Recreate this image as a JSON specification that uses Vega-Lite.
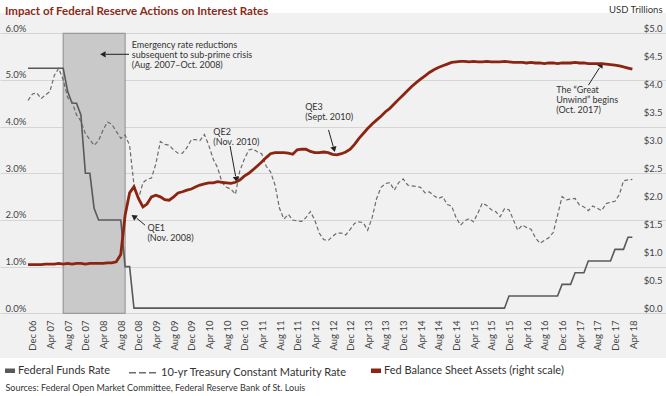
{
  "$schema": "https://vega.github.io/schema/vega-lite/v6.json",
  "width": 666,
  "height": 345,
  "autosize": {"type": "none"},
  "padding": {"left": 0, "top": 13, "right": 0, "bottom": 38},
  "background": "white",
  "config": {
    "font": "Lato",
    "view": {"fill": "#f1f1f1", "stroke": null}
  },
  "title": {
    "text": "Impact of Federal Reserve Actions on Interest Rates",
    "anchor": "start",
    "frame": "group",
    "orient": "top",
    "baseline": "alphabetic",
    "offset": -22,
    "dx": 5,
    "color": "#8b2a18",
    "fontSize": 11.5,
    "fontWeight": "bold",
    "font": "Lato"
  },
  "datasets": {
    "series": [
      {"date": "2006-12-01", "fed_funds": 5.25, "treasury_10y": 4.56, "balance_sheet": 0.87},
      {"date": "2007-01-01", "fed_funds": 5.25, "treasury_10y": 4.70, "balance_sheet": 0.87},
      {"date": "2007-02-01", "fed_funds": 5.25, "treasury_10y": 4.72, "balance_sheet": 0.87},
      {"date": "2007-03-01", "fed_funds": 5.25, "treasury_10y": 4.60, "balance_sheet": 0.87},
      {"date": "2007-04-01", "fed_funds": 5.25, "treasury_10y": 4.68, "balance_sheet": 0.88},
      {"date": "2007-05-01", "fed_funds": 5.25, "treasury_10y": 4.75, "balance_sheet": 0.88},
      {"date": "2007-06-01", "fed_funds": 5.25, "treasury_10y": 5.10, "balance_sheet": 0.88},
      {"date": "2007-07-01", "fed_funds": 5.25, "treasury_10y": 5.25, "balance_sheet": 0.89},
      {"date": "2007-08-01", "fed_funds": 5.25, "treasury_10y": 5.00, "balance_sheet": 0.88},
      {"date": "2007-09-01", "fed_funds": 4.75, "treasury_10y": 4.62, "balance_sheet": 0.89},
      {"date": "2007-10-01", "fed_funds": 4.50, "treasury_10y": 4.53, "balance_sheet": 0.88},
      {"date": "2007-11-01", "fed_funds": 4.50, "treasury_10y": 4.25, "balance_sheet": 0.89},
      {"date": "2007-12-01", "fed_funds": 4.25, "treasury_10y": 4.12, "balance_sheet": 0.89},
      {"date": "2008-01-01", "fed_funds": 3.00, "treasury_10y": 3.85, "balance_sheet": 0.88},
      {"date": "2008-02-01", "fed_funds": 3.00, "treasury_10y": 3.72, "balance_sheet": 0.89},
      {"date": "2008-03-01", "fed_funds": 2.25, "treasury_10y": 3.60, "balance_sheet": 0.89},
      {"date": "2008-04-01", "fed_funds": 2.00, "treasury_10y": 3.70, "balance_sheet": 0.89},
      {"date": "2008-05-01", "fed_funds": 2.00, "treasury_10y": 3.92, "balance_sheet": 0.89},
      {"date": "2008-06-01", "fed_funds": 2.00, "treasury_10y": 4.10, "balance_sheet": 0.90},
      {"date": "2008-07-01", "fed_funds": 2.00, "treasury_10y": 4.05, "balance_sheet": 0.90},
      {"date": "2008-08-01", "fed_funds": 2.00, "treasury_10y": 3.90, "balance_sheet": 0.92},
      {"date": "2008-09-01", "fed_funds": 2.00, "treasury_10y": 3.75, "balance_sheet": 1.05},
      {"date": "2008-10-01", "fed_funds": 1.00, "treasury_10y": 3.82, "balance_sheet": 1.75},
      {"date": "2008-11-01", "fed_funds": 1.00, "treasury_10y": 3.60, "balance_sheet": 2.15},
      {"date": "2008-12-01", "fed_funds": 0.11, "treasury_10y": 2.75, "balance_sheet": 2.26},
      {"date": "2009-01-01", "fed_funds": 0.11, "treasury_10y": 2.45, "balance_sheet": 2.05},
      {"date": "2009-02-01", "fed_funds": 0.11, "treasury_10y": 2.80, "balance_sheet": 1.90},
      {"date": "2009-03-01", "fed_funds": 0.11, "treasury_10y": 2.87, "balance_sheet": 1.95},
      {"date": "2009-04-01", "fed_funds": 0.11, "treasury_10y": 2.90, "balance_sheet": 2.08},
      {"date": "2009-05-01", "fed_funds": 0.11, "treasury_10y": 3.20, "balance_sheet": 2.11},
      {"date": "2009-06-01", "fed_funds": 0.11, "treasury_10y": 3.68, "balance_sheet": 2.08},
      {"date": "2009-07-01", "fed_funds": 0.11, "treasury_10y": 3.62, "balance_sheet": 2.03},
      {"date": "2009-08-01", "fed_funds": 0.11, "treasury_10y": 3.60, "balance_sheet": 2.02},
      {"date": "2009-09-01", "fed_funds": 0.11, "treasury_10y": 3.50, "balance_sheet": 2.08},
      {"date": "2009-10-01", "fed_funds": 0.11, "treasury_10y": 3.43, "balance_sheet": 2.15},
      {"date": "2009-11-01", "fed_funds": 0.11, "treasury_10y": 3.43, "balance_sheet": 2.17},
      {"date": "2009-12-01", "fed_funds": 0.11, "treasury_10y": 3.55, "balance_sheet": 2.20},
      {"date": "2010-01-01", "fed_funds": 0.11, "treasury_10y": 3.72, "balance_sheet": 2.22},
      {"date": "2010-02-01", "fed_funds": 0.11, "treasury_10y": 3.72, "balance_sheet": 2.26},
      {"date": "2010-03-01", "fed_funds": 0.11, "treasury_10y": 3.70, "balance_sheet": 2.29},
      {"date": "2010-04-01", "fed_funds": 0.11, "treasury_10y": 3.83, "balance_sheet": 2.31},
      {"date": "2010-05-01", "fed_funds": 0.11, "treasury_10y": 3.60, "balance_sheet": 2.33},
      {"date": "2010-06-01", "fed_funds": 0.11, "treasury_10y": 3.30, "balance_sheet": 2.33},
      {"date": "2010-07-01", "fed_funds": 0.11, "treasury_10y": 3.12, "balance_sheet": 2.35},
      {"date": "2010-08-01", "fed_funds": 0.11, "treasury_10y": 2.80, "balance_sheet": 2.34},
      {"date": "2010-09-01", "fed_funds": 0.11, "treasury_10y": 2.70, "balance_sheet": 2.33},
      {"date": "2010-10-01", "fed_funds": 0.11, "treasury_10y": 2.66, "balance_sheet": 2.32},
      {"date": "2010-11-01", "fed_funds": 0.11, "treasury_10y": 2.55, "balance_sheet": 2.34},
      {"date": "2010-12-01", "fed_funds": 0.11, "treasury_10y": 3.05, "balance_sheet": 2.38},
      {"date": "2011-01-01", "fed_funds": 0.11, "treasury_10y": 3.30, "balance_sheet": 2.45},
      {"date": "2011-02-01", "fed_funds": 0.11, "treasury_10y": 3.50, "balance_sheet": 2.50},
      {"date": "2011-03-01", "fed_funds": 0.11, "treasury_10y": 3.52, "balance_sheet": 2.56},
      {"date": "2011-04-01", "fed_funds": 0.11, "treasury_10y": 3.46, "balance_sheet": 2.63},
      {"date": "2011-05-01", "fed_funds": 0.11, "treasury_10y": 3.42, "balance_sheet": 2.70},
      {"date": "2011-06-01", "fed_funds": 0.11, "treasury_10y": 3.15, "balance_sheet": 2.78},
      {"date": "2011-07-01", "fed_funds": 0.11, "treasury_10y": 3.03, "balance_sheet": 2.85},
      {"date": "2011-08-01", "fed_funds": 0.11, "treasury_10y": 2.75, "balance_sheet": 2.87},
      {"date": "2011-09-01", "fed_funds": 0.11, "treasury_10y": 2.25, "balance_sheet": 2.87},
      {"date": "2011-10-01", "fed_funds": 0.11, "treasury_10y": 2.02, "balance_sheet": 2.87},
      {"date": "2011-11-01", "fed_funds": 0.11, "treasury_10y": 2.12, "balance_sheet": 2.86},
      {"date": "2011-12-01", "fed_funds": 0.11, "treasury_10y": 2.00, "balance_sheet": 2.84},
      {"date": "2012-01-01", "fed_funds": 0.11, "treasury_10y": 1.98, "balance_sheet": 2.92},
      {"date": "2012-02-01", "fed_funds": 0.11, "treasury_10y": 1.97, "balance_sheet": 2.93},
      {"date": "2012-03-01", "fed_funds": 0.11, "treasury_10y": 2.05, "balance_sheet": 2.93},
      {"date": "2012-04-01", "fed_funds": 0.11, "treasury_10y": 2.18, "balance_sheet": 2.89},
      {"date": "2012-05-01", "fed_funds": 0.11, "treasury_10y": 2.00, "balance_sheet": 2.87},
      {"date": "2012-06-01", "fed_funds": 0.11, "treasury_10y": 1.72, "balance_sheet": 2.87},
      {"date": "2012-07-01", "fed_funds": 0.11, "treasury_10y": 1.58, "balance_sheet": 2.88},
      {"date": "2012-08-01", "fed_funds": 0.11, "treasury_10y": 1.56, "balance_sheet": 2.87},
      {"date": "2012-09-01", "fed_funds": 0.11, "treasury_10y": 1.65, "balance_sheet": 2.84},
      {"date": "2012-10-01", "fed_funds": 0.11, "treasury_10y": 1.72, "balance_sheet": 2.83},
      {"date": "2012-11-01", "fed_funds": 0.11, "treasury_10y": 1.72, "balance_sheet": 2.85},
      {"date": "2012-12-01", "fed_funds": 0.11, "treasury_10y": 1.68, "balance_sheet": 2.88},
      {"date": "2013-01-01", "fed_funds": 0.11, "treasury_10y": 1.80, "balance_sheet": 2.93},
      {"date": "2013-02-01", "fed_funds": 0.11, "treasury_10y": 1.93, "balance_sheet": 3.02},
      {"date": "2013-03-01", "fed_funds": 0.11, "treasury_10y": 1.96, "balance_sheet": 3.12},
      {"date": "2013-04-01", "fed_funds": 0.11, "treasury_10y": 1.94, "balance_sheet": 3.21},
      {"date": "2013-05-01", "fed_funds": 0.11, "treasury_10y": 1.78, "balance_sheet": 3.30},
      {"date": "2013-06-01", "fed_funds": 0.11, "treasury_10y": 2.05, "balance_sheet": 3.38},
      {"date": "2013-07-01", "fed_funds": 0.11, "treasury_10y": 2.45, "balance_sheet": 3.45},
      {"date": "2013-08-01", "fed_funds": 0.11, "treasury_10y": 2.70, "balance_sheet": 3.52},
      {"date": "2013-09-01", "fed_funds": 0.11, "treasury_10y": 2.78, "balance_sheet": 3.60},
      {"date": "2013-10-01", "fed_funds": 0.11, "treasury_10y": 2.80, "balance_sheet": 3.66},
      {"date": "2013-11-01", "fed_funds": 0.11, "treasury_10y": 2.64, "balance_sheet": 3.74},
      {"date": "2013-12-01", "fed_funds": 0.11, "treasury_10y": 2.80, "balance_sheet": 3.82},
      {"date": "2014-01-01", "fed_funds": 0.11, "treasury_10y": 2.88, "balance_sheet": 3.90},
      {"date": "2014-02-01", "fed_funds": 0.11, "treasury_10y": 2.75, "balance_sheet": 3.98},
      {"date": "2014-03-01", "fed_funds": 0.11, "treasury_10y": 2.73, "balance_sheet": 4.05},
      {"date": "2014-04-01", "fed_funds": 0.11, "treasury_10y": 2.72, "balance_sheet": 4.12},
      {"date": "2014-05-01", "fed_funds": 0.11, "treasury_10y": 2.70, "balance_sheet": 4.18},
      {"date": "2014-06-01", "fed_funds": 0.11, "treasury_10y": 2.58, "balance_sheet": 4.24},
      {"date": "2014-07-01", "fed_funds": 0.11, "treasury_10y": 2.60, "balance_sheet": 4.30},
      {"date": "2014-08-01", "fed_funds": 0.11, "treasury_10y": 2.52, "balance_sheet": 4.35},
      {"date": "2014-09-01", "fed_funds": 0.11, "treasury_10y": 2.46, "balance_sheet": 4.39},
      {"date": "2014-10-01", "fed_funds": 0.11, "treasury_10y": 2.50, "balance_sheet": 4.42},
      {"date": "2014-11-01", "fed_funds": 0.11, "treasury_10y": 2.33, "balance_sheet": 4.45},
      {"date": "2014-12-01", "fed_funds": 0.11, "treasury_10y": 2.30, "balance_sheet": 4.48},
      {"date": "2015-01-01", "fed_funds": 0.11, "treasury_10y": 2.05, "balance_sheet": 4.49},
      {"date": "2015-02-01", "fed_funds": 0.11, "treasury_10y": 1.89, "balance_sheet": 4.50},
      {"date": "2015-03-01", "fed_funds": 0.11, "treasury_10y": 1.98, "balance_sheet": 4.50},
      {"date": "2015-04-01", "fed_funds": 0.11, "treasury_10y": 2.03, "balance_sheet": 4.49},
      {"date": "2015-05-01", "fed_funds": 0.11, "treasury_10y": 1.96, "balance_sheet": 4.50},
      {"date": "2015-06-01", "fed_funds": 0.11, "treasury_10y": 2.15, "balance_sheet": 4.49},
      {"date": "2015-07-01", "fed_funds": 0.11, "treasury_10y": 2.36, "balance_sheet": 4.49},
      {"date": "2015-08-01", "fed_funds": 0.11, "treasury_10y": 2.31, "balance_sheet": 4.50},
      {"date": "2015-09-01", "fed_funds": 0.11, "treasury_10y": 2.22, "balance_sheet": 4.49},
      {"date": "2015-10-01", "fed_funds": 0.11, "treasury_10y": 2.18, "balance_sheet": 4.49},
      {"date": "2015-11-01", "fed_funds": 0.11, "treasury_10y": 2.07, "balance_sheet": 4.49},
      {"date": "2015-12-01", "fed_funds": 0.11, "treasury_10y": 2.24, "balance_sheet": 4.50},
      {"date": "2016-01-01", "fed_funds": 0.37, "treasury_10y": 2.22, "balance_sheet": 4.49},
      {"date": "2016-02-01", "fed_funds": 0.37, "treasury_10y": 2.00, "balance_sheet": 4.48},
      {"date": "2016-03-01", "fed_funds": 0.37, "treasury_10y": 1.78, "balance_sheet": 4.48},
      {"date": "2016-04-01", "fed_funds": 0.37, "treasury_10y": 1.89, "balance_sheet": 4.48},
      {"date": "2016-05-01", "fed_funds": 0.37, "treasury_10y": 1.84, "balance_sheet": 4.47},
      {"date": "2016-06-01", "fed_funds": 0.37, "treasury_10y": 1.80, "balance_sheet": 4.48},
      {"date": "2016-07-01", "fed_funds": 0.37, "treasury_10y": 1.62, "balance_sheet": 4.47},
      {"date": "2016-08-01", "fed_funds": 0.37, "treasury_10y": 1.50, "balance_sheet": 4.47},
      {"date": "2016-09-01", "fed_funds": 0.37, "treasury_10y": 1.56, "balance_sheet": 4.46},
      {"date": "2016-10-01", "fed_funds": 0.37, "treasury_10y": 1.62, "balance_sheet": 4.47},
      {"date": "2016-11-01", "fed_funds": 0.37, "treasury_10y": 1.73, "balance_sheet": 4.47},
      {"date": "2016-12-01", "fed_funds": 0.37, "treasury_10y": 2.10, "balance_sheet": 4.46},
      {"date": "2017-01-01", "fed_funds": 0.62, "treasury_10y": 2.50, "balance_sheet": 4.47},
      {"date": "2017-02-01", "fed_funds": 0.62, "treasury_10y": 2.43, "balance_sheet": 4.47},
      {"date": "2017-03-01", "fed_funds": 0.62, "treasury_10y": 2.45, "balance_sheet": 4.47},
      {"date": "2017-04-01", "fed_funds": 0.87, "treasury_10y": 2.46, "balance_sheet": 4.48},
      {"date": "2017-05-01", "fed_funds": 0.87, "treasury_10y": 2.32, "balance_sheet": 4.47},
      {"date": "2017-06-01", "fed_funds": 0.87, "treasury_10y": 2.28, "balance_sheet": 4.47},
      {"date": "2017-07-01", "fed_funds": 1.12, "treasury_10y": 2.20, "balance_sheet": 4.46},
      {"date": "2017-08-01", "fed_funds": 1.12, "treasury_10y": 2.30, "balance_sheet": 4.46},
      {"date": "2017-09-01", "fed_funds": 1.12, "treasury_10y": 2.25, "balance_sheet": 4.46},
      {"date": "2017-10-01", "fed_funds": 1.12, "treasury_10y": 2.20, "balance_sheet": 4.46},
      {"date": "2017-11-01", "fed_funds": 1.12, "treasury_10y": 2.35, "balance_sheet": 4.45},
      {"date": "2017-12-01", "fed_funds": 1.12, "treasury_10y": 2.38, "balance_sheet": 4.44},
      {"date": "2018-01-01", "fed_funds": 1.37, "treasury_10y": 2.40, "balance_sheet": 4.43},
      {"date": "2018-02-01", "fed_funds": 1.37, "treasury_10y": 2.55, "balance_sheet": 4.42},
      {"date": "2018-03-01", "fed_funds": 1.37, "treasury_10y": 2.84, "balance_sheet": 4.40},
      {"date": "2018-04-01", "fed_funds": 1.63, "treasury_10y": 2.86, "balance_sheet": 4.38},
      {"date": "2018-05-01", "fed_funds": 1.63, "treasury_10y": 2.87, "balance_sheet": 4.36}
    ],
    "shade": [{"date": "2007-08-01", "date_end": "2008-10-01"}],
    "notes": [
      {"date": "2008-11-16", "rate": 5.68, "label": ["Emergency rate reductions", "subsequent to sub-prime crisis", "(Aug. 2007–Oct. 2008)"]},
      {"date": "2009-03-04", "rate": 1.77, "label": ["QE1", "(Nov. 2008)"]},
      {"date": "2010-06-01", "rate": 3.82, "label": ["QE2", "(Nov. 2010)"]},
      {"date": "2012-02-25", "rate": 4.35, "label": ["QE3", "(Sept. 2010)"]},
      {"date": "2016-11-22", "rate": 4.71, "label": ["The “Great", "Unwind” begins", "(Oct. 2017)"]}
    ],
    "arrows": [
      {"name": "emergency", "date": "2008-10-28", "rate": 5.55, "date_end": "2008-05-22", "rate_end": 5.55},
      {"name": "qe1", "date": "2009-02-15", "rate": 1.89, "date_end": "2008-12-19", "rate_end": 2.04},
      {"name": "qe2", "date": "2010-09-25", "rate": 3.585, "date_end": "2010-11-02", "rate_end": 2.94},
      {"name": "qe3", "date": "2012-08-04", "rate": 3.93, "date_end": "2012-09-06", "rate_end": 3.57},
      {"name": "unwind", "date": "2017-07-02", "rate": 4.89, "date_end": "2017-09-16", "rate_end": 5.26}
    ],
    "arrowheads": [
      {"name": "emergency", "date": "2008-05-07", "rate": 5.55},
      {"name": "qe1", "date": "2008-12-05", "rate": 2.06},
      {"name": "qe2", "date": "2010-11-06", "rate": 2.89},
      {"name": "qe3", "date": "2012-09-10", "rate": 3.53},
      {"name": "unwind", "date": "2017-09-25", "rate": 5.31}
    ]
  },
  "encoding": {
    "x": {
      "field": "date",
      "type": "temporal",
      "title": "Sources: Federal Open Market Committee, Federal Reserve Bank of St. Louis",
      "scale": {
        "type": "utc",
        "domain": [
          {"year": 2006, "month": 5, "date": 22, "utc": true},
          {"year": 2018, "month": 12, "date": 19, "utc": true}
        ]
      },
      "axis": {
        "values": [
          {"year": 2006, "month": 12, "date": 1, "utc": true},
          {"year": 2007, "month": 4, "date": 1, "utc": true},
          {"year": 2007, "month": 8, "date": 1, "utc": true},
          {"year": 2007, "month": 12, "date": 1, "utc": true},
          {"year": 2008, "month": 4, "date": 1, "utc": true},
          {"year": 2008, "month": 8, "date": 1, "utc": true},
          {"year": 2008, "month": 12, "date": 1, "utc": true},
          {"year": 2009, "month": 4, "date": 1, "utc": true},
          {"year": 2009, "month": 8, "date": 1, "utc": true},
          {"year": 2009, "month": 12, "date": 1, "utc": true},
          {"year": 2010, "month": 4, "date": 1, "utc": true},
          {"year": 2010, "month": 8, "date": 1, "utc": true},
          {"year": 2010, "month": 12, "date": 1, "utc": true},
          {"year": 2011, "month": 4, "date": 1, "utc": true},
          {"year": 2011, "month": 8, "date": 1, "utc": true},
          {"year": 2011, "month": 12, "date": 1, "utc": true},
          {"year": 2012, "month": 4, "date": 1, "utc": true},
          {"year": 2012, "month": 8, "date": 1, "utc": true},
          {"year": 2012, "month": 12, "date": 1, "utc": true},
          {"year": 2013, "month": 4, "date": 1, "utc": true},
          {"year": 2013, "month": 8, "date": 1, "utc": true},
          {"year": 2013, "month": 12, "date": 1, "utc": true},
          {"year": 2014, "month": 4, "date": 1, "utc": true},
          {"year": 2014, "month": 8, "date": 1, "utc": true},
          {"year": 2014, "month": 12, "date": 1, "utc": true},
          {"year": 2015, "month": 4, "date": 1, "utc": true},
          {"year": 2015, "month": 8, "date": 1, "utc": true},
          {"year": 2015, "month": 12, "date": 1, "utc": true},
          {"year": 2016, "month": 4, "date": 1, "utc": true},
          {"year": 2016, "month": 8, "date": 1, "utc": true},
          {"year": 2016, "month": 12, "date": 1, "utc": true},
          {"year": 2017, "month": 4, "date": 1, "utc": true},
          {"year": 2017, "month": 8, "date": 1, "utc": true},
          {"year": 2017, "month": 12, "date": 1, "utc": true},
          {"year": 2018, "month": 4, "date": 1, "utc": true}
        ],
        "format": "%b %y",
        "labelAngle": -90,
        "labelPadding": -38,
        "labelOffset": 5,
        "labelOverlap": false,
        "labelFontSize": 9.5,
        "labelColor": "#444444",
        "domain": false,
        "ticks": false,
        "tickSize": 0,
        "grid": false,
        "titleX": 5,
        "titleY": 29,
        "titleAlign": "left",
        "titleAnchor": "start",
        "titleBaseline": "middle",
        "titleFontSize": 9,
        "titleFontWeight": "normal",
        "titleColor": "#333333"
      }
    }
  },
  "layer": [
    {
      "layer": [
        {
          "data": {"name": "shade"},
          "mark": {"type": "rect", "fill": "#c9c9c9", "stroke": "#9a9a9a", "strokeWidth": 1.2},
          "encoding": {
            "x2": {"field": "date_end"},
            "y": {"datum": 0, "type": "quantitative", "scale": {"domain": [-0.958, 6.435], "nice": false, "zero": false}},
            "y2": {"datum": 6}
          }
        },
        {
          "data": {"name": "series"},
          "mark": {"type": "line", "strokeWidth": 1.6, "interpolate": "linear"},
          "encoding": {
            "y": {
              "field": "fed_funds",
              "type": "quantitative",
              "title": null,
              "scale": {"domain": [-0.958, 6.435], "nice": false, "zero": false},
              "axis": {
                "orient": "left",
                "values": [0, 1, 2, 3, 4, 5, 6],
                "domain": false,
                "ticks": false,
                "tickSize": 0,
                "grid": true,
                "gridColor": "#d5d5d5",
                "gridWidth": 1,
                "labelAlign": "left",
                "labelBaseline": "alphabetic",
                "labelPadding": -5,
                "labelOffset": -2,
                "labelExpr": "format(datum.value, '.1f') + '%'",
                "labelFontSize": 9.5,
                "labelColor": "#444444"
              }
            },
            "color": {
              "datum": "Federal Funds Rate",
              "type": "nominal",
              "scale": {
                "domain": ["Federal Funds Rate", "10-yr Treasury Constant Maturity Rate", "Fed Balance Sheet Assets (right scale)"],
                "range": ["#595959", "#6b6b6b", "#8c2412"]
              },
              "legend": {
                "title": null,
                "orient": "none",
                "legendX": 5,
                "legendY": 352,
                "direction": "horizontal",
                "columnPadding": 14,
                "symbolType": "stroke",
                "symbolSize": 100,
                "symbolStrokeWidth": 4.5,
                "labelOffset": 3,
                "labelFontSize": 11,
                "labelLimit": 0,
                "labelColor": "#333333",
                "encode": {
                  "symbols": {
                    "update": {
                      "size": {"signal": "datum.value === '10-yr Treasury Constant Maturity Rate' ? 784 : 100"},
                      "strokeWidth": {"signal": "datum.value === '10-yr Treasury Constant Maturity Rate' ? 1.6 : 4.5"},
                      "strokeDash": {"signal": "datum.value === '10-yr Treasury Constant Maturity Rate' ? [7, 3] : [1, 0]"},
                      "x": {"signal": "datum.value === '10-yr Treasury Constant Maturity Rate' ? 14 : 5"}
                    }
                  },
                  "labels": {
                    "update": {
                      "x": {"signal": "datum.value === '10-yr Treasury Constant Maturity Rate' ? 32 : 13"}
                    }
                  }
                }
              }
            }
          }
        },
        {
          "data": {"name": "series"},
          "mark": {"type": "line", "strokeWidth": 1.2, "strokeDash": [4, 2.5], "interpolate": "linear"},
          "encoding": {
            "y": {"field": "treasury_10y", "type": "quantitative", "title": null, "scale": {"domain": [-0.958, 6.435], "nice": false, "zero": false}},
            "color": {"datum": "10-yr Treasury Constant Maturity Rate", "type": "nominal"}
          }
        },
        {
          "data": {"name": "notes"},
          "mark": {"type": "text", "align": "left", "baseline": "alphabetic", "fontSize": 9, "lineHeight": 10, "color": "#333333"},
          "encoding": {
            "y": {"field": "rate", "type": "quantitative", "title": null, "scale": {"domain": [-0.958, 6.435], "nice": false, "zero": false}},
            "text": {"field": "label"}
          }
        },
        {
          "data": {"name": "arrows"},
          "mark": {"type": "rule", "color": "#222222", "strokeWidth": 1},
          "encoding": {
            "x2": {"field": "date_end"},
            "y": {"field": "rate", "type": "quantitative", "title": null, "scale": {"domain": [-0.958, 6.435], "nice": false, "zero": false}},
            "y2": {"field": "rate_end"}
          }
        },
        {
          "data": {"name": "arrowheads"},
          "transform": [{"filter": "datum.name === 'emergency'"}],
          "mark": {"type": "point", "shape": "triangle", "angle": 270, "filled": true, "size": 40, "color": "#222222", "opacity": 1},
          "encoding": {"y": {"field": "rate", "type": "quantitative", "title": null, "scale": {"domain": [-0.958, 6.435], "nice": false, "zero": false}}}
        },
        {
          "data": {"name": "arrowheads"},
          "transform": [{"filter": "datum.name === 'qe1'"}],
          "mark": {"type": "point", "shape": "triangle", "angle": 305, "filled": true, "size": 40, "color": "#222222", "opacity": 1},
          "encoding": {"y": {"field": "rate", "type": "quantitative", "title": null, "scale": {"domain": [-0.958, 6.435], "nice": false, "zero": false}}}
        },
        {
          "data": {"name": "arrowheads"},
          "transform": [{"filter": "datum.name === 'qe2'"}],
          "mark": {"type": "point", "shape": "triangle", "angle": 170, "filled": true, "size": 40, "color": "#222222", "opacity": 1},
          "encoding": {"y": {"field": "rate", "type": "quantitative", "title": null, "scale": {"domain": [-0.958, 6.435], "nice": false, "zero": false}}}
        },
        {
          "data": {"name": "arrowheads"},
          "transform": [{"filter": "datum.name === 'qe3'"}],
          "mark": {"type": "point", "shape": "triangle", "angle": 165, "filled": true, "size": 40, "color": "#222222", "opacity": 1},
          "encoding": {"y": {"field": "rate", "type": "quantitative", "title": null, "scale": {"domain": [-0.958, 6.435], "nice": false, "zero": false}}}
        },
        {
          "data": {"name": "arrowheads"},
          "transform": [{"filter": "datum.name === 'unwind'"}],
          "mark": {"type": "point", "shape": "triangle", "angle": 32, "filled": true, "size": 40, "color": "#222222", "opacity": 1},
          "encoding": {"y": {"field": "rate", "type": "quantitative", "title": null, "scale": {"domain": [-0.958, 6.435], "nice": false, "zero": false}}}
        }
      ]
    },
    {
      "data": {"name": "series"},
      "mark": {"type": "line", "strokeWidth": 2.8, "interpolate": "linear"},
      "encoding": {
        "y": {
          "field": "balance_sheet",
          "type": "quantitative",
          "scale": {"domain": [-0.798, 5.3625], "nice": false, "zero": false},
          "axis": {
            "orient": "right",
            "title": "USD Trillions",
            "values": [0, 0.5, 1, 1.5, 2, 2.5, 3, 3.5, 4, 4.5, 5],
            "domain": false,
            "ticks": false,
            "tickSize": 0,
            "grid": false,
            "labelAlign": "right",
            "labelBaseline": "alphabetic",
            "labelPadding": -4,
            "labelOffset": -2,
            "labelExpr": "'$' + format(datum.value, '.1f')",
            "labelFontSize": 9.5,
            "labelColor": "#444444",
            "titleAngle": 0,
            "titleAlign": "right",
            "titleBaseline": "alphabetic",
            "titleX": -4,
            "titleY": -1,
            "titleFontSize": 9.5,
            "titleFontWeight": "normal",
            "titleColor": "#333333"
          }
        },
        "color": {"datum": "Fed Balance Sheet Assets (right scale)", "type": "nominal"}
      }
    }
  ],
  "resolve": {"scale": {"y": "independent"}}
}
